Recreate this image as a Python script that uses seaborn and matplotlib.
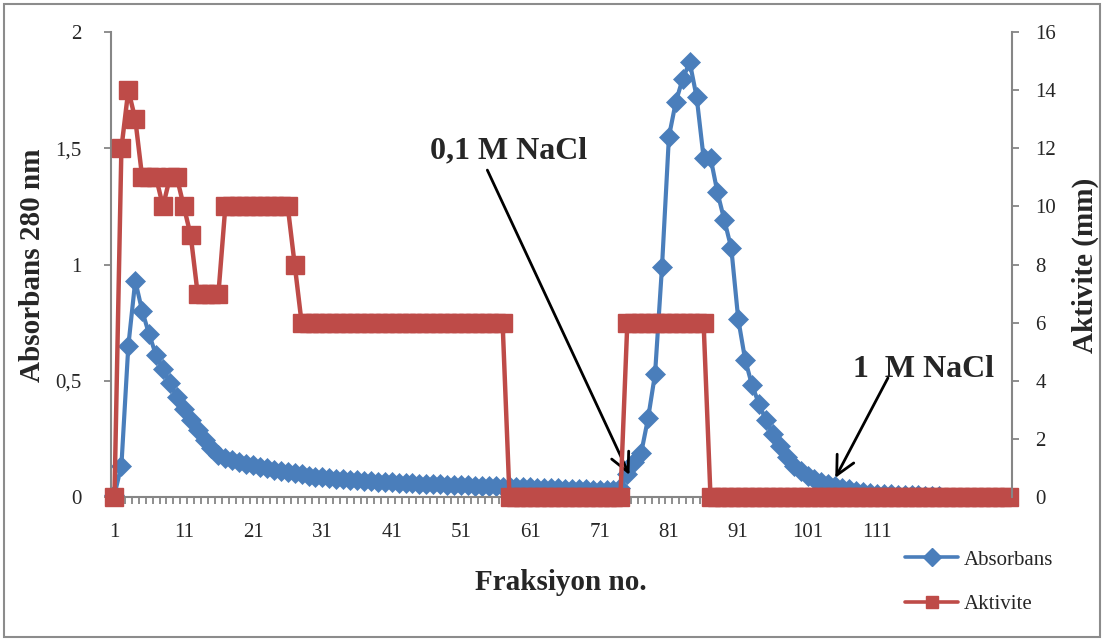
import matplotlib
matplotlib.use("Agg")
import matplotlib.pyplot as plt
from matplotlib.lines import Line2D
from matplotlib.patches import Rectangle
import pandas as pd
import seaborn as sns

# Fraction numbers and measured values
fraksiyon_abs = list(range(1, 121))
absorbans = [
    0.01, 0.135, 0.65, 0.93, 0.80, 0.70, 0.61, 0.55, 0.49, 0.43,
    0.38, 0.33, 0.29, 0.245, 0.21, 0.18, 0.167, 0.158, 0.150, 0.143,
    0.136, 0.130, 0.124, 0.118, 0.112, 0.107, 0.102, 0.097, 0.092, 0.088,
    0.085, 0.082, 0.079, 0.076, 0.073, 0.071, 0.069, 0.067, 0.066, 0.064,
    0.063, 0.061, 0.060, 0.059, 0.057, 0.056, 0.055, 0.054, 0.053, 0.052,
    0.051, 0.050, 0.049, 0.048, 0.047, 0.046, 0.045, 0.044, 0.043, 0.042,
    0.041, 0.040, 0.039, 0.038, 0.037, 0.036, 0.035, 0.034, 0.033, 0.032,
    0.031, 0.030, 0.032, 0.040, 0.10, 0.15, 0.19, 0.34, 0.53, 0.99,
    1.55, 1.70, 1.80, 1.87, 1.72, 1.46, 1.46, 1.31, 1.19, 1.07,
    0.765, 0.59, 0.48, 0.40, 0.33, 0.27, 0.22, 0.17, 0.135, 0.11,
    0.092, 0.077, 0.065, 0.055, 0.047, 0.040, 0.033, 0.027, 0.022, 0.018,
    0.015, 0.013, 0.011, 0.010, 0.009, 0.008, 0.007, 0.006, 0.005, 0.005,
]

fraksiyon_akt = list(range(1, 131))
aktivite = [
    0, 12, 14, 13, 11, 11, 11, 10, 11, 11,
    10, 9, 7, 7, 7, 7, 10, 10, 10, 10,
    10, 10, 10, 10, 10, 10, 8, 6, 6, 6,
    6, 6, 6, 6, 6, 6, 6, 6, 6, 6,
    6, 6, 6, 6, 6, 6, 6, 6, 6, 6,
    6, 6, 6, 6, 6, 6, 6, 0, 0, 0,
    0, 0, 0, 0, 0, 0, 0, 0, 0, 0,
    0, 0, 0, 0, 6, 6, 6, 6, 6, 6,
    6, 6, 6, 6, 6, 6, 0, 0, 0, 0,
    0, 0, 0, 0, 0, 0, 0, 0, 0, 0,
    0, 0, 0, 0, 0, 0, 0, 0, 0, 0,
    0, 0, 0, 0, 0, 0, 0, 0, 0, 0,
    0, 0, 0, 0, 0, 0, 0, 0, 0, 0,
]

x_tick_values = [1, 11, 21, 31, 41, 51, 61, 71, 81, 91, 101, 111]
left_ticks = [0, 0.5, 1, 1.5, 2]
left_tick_labels = ["0", "0,5", "1", "1,5", "2"]
right_ticks = [0, 2, 4, 6, 8, 10, 12, 14, 16]

BLUE = "#4a7ebb"
RED = "#be4b48"
GRAY = "#868686"

sns.set_style("white")
plt.rcParams["font.family"] = ["Liberation Serif", "DejaVu Serif"]

fig = plt.figure(figsize=(11.04, 6.4), dpi=100)
W, H = 1104, 640
ax = fig.add_axes([111 / W, 1 - 497 / H, (1012 - 111) / W, (497 - 32) / H])
ax2 = ax.twinx()

df_abs = pd.DataFrame({"fraksiyon": fraksiyon_abs, "absorbans": absorbans})
df_akt = pd.DataFrame({"fraksiyon": fraksiyon_akt, "aktivite": aktivite})

sns.lineplot(data=df_abs, x="fraksiyon", y="absorbans", ax=ax, estimator=None,
             color=BLUE, linewidth=3.0, marker="D", markersize=10,
             markeredgecolor=BLUE, markerfacecolor=BLUE, markeredgewidth=0.5,
             clip_on=False, legend=False)
sns.lineplot(data=df_akt, x="fraksiyon", y="aktivite", ax=ax2, estimator=None,
             color=RED, linewidth=3.2, marker="s", markersize=13.5,
             markeredgecolor=RED, markerfacecolor=RED, markeredgewidth=1,
             clip_on=False, legend=False)

# Axes limits and category ticks
ax.set_xlim(0.5, 130.5)
ax.set_ylim(0, 2)
ax2.set_ylim(0, 16)

ax.set_xticks(x_tick_values)
ax.set_xticklabels([str(v) for v in x_tick_values])
ax.set_xticks([v + 0.5 for v in range(0, 131)], minor=True)
ax.tick_params(axis="x", which="major", length=0, pad=19, labelsize=15)
ax.tick_params(axis="x", which="minor", direction="out", length=5,
               width=1.3, color=GRAY, bottom=True)

ax.set_yticks(left_ticks)
ax.set_yticklabels(left_tick_labels)
ax.tick_params(axis="y", which="major", direction="out", length=5, width=1.3,
               color=GRAY, pad=16, labelsize=15, left=True)
ax2.set_yticks(right_ticks)
ax2.set_yticklabels([str(v) for v in right_ticks])
ax2.tick_params(axis="y", which="major", direction="out", length=5, width=1.3,
                color=GRAY, pad=12, labelsize=15, right=True)

for a in (ax, ax2):
    a.spines["top"].set_visible(False)
    for side in ("left", "right", "bottom"):
        a.spines[side].set_color(GRAY)
        a.spines[side].set_linewidth(1.5)
ax.spines["right"].set_visible(False)
ax2.spines["left"].set_visible(False)
ax2.spines["bottom"].set_visible(False)

ax.set_xlabel("")
ax.set_ylabel("")
ax2.set_ylabel("")

# Axis titles
fig.text(33 / W, 1 - 265 / H, "Absorbans 280 nm", rotation=90, ha="center",
         va="center", fontsize=21, fontweight="bold")
fig.text(1085 / W, 1 - 265 / H, "Aktivite (mm)", rotation=90, ha="center",
         va="center", fontsize=21, fontweight="bold")
fig.text(561 / W, 1 - 582 / H, "Fraksiyon no.", ha="center", va="center",
         fontsize=21, fontweight="bold")

# Salt-step annotations
arrow_kw = dict(arrowstyle="->,head_length=0.9,head_width=0.45", lw=2,
                color="black", shrinkA=0, shrinkB=0, mutation_scale=15)
ax.text(57.8, 1.49, "0,1 M NaCl", ha="center", va="center", fontsize=23,
        fontweight="bold")
ax.annotate("", xy=(75.3, 0.095), xytext=(54.8, 1.406), xycoords="data",
            arrowprops=arrow_kw)
ax.text(117.8, 0.55, "1  M NaCl", ha="center", va="center", fontsize=23,
        fontweight="bold")
ax.annotate("", xy=(105.0, 0.082), xytext=(112.6, 0.512), xycoords="data",
            arrowprops=arrow_kw)

# Legend
handles = [
    Line2D([], [], color=BLUE, lw=2.6, marker="D", markersize=9,
           markerfacecolor=BLUE, markeredgecolor=BLUE),
    Line2D([], [], color=RED, lw=2.6, marker="s", markersize=8,
           markerfacecolor=RED, markeredgecolor=RED),
]
fig.legend(handles, ["Absorbans", "Aktivite"], loc="upper left",
           bbox_to_anchor=(905 / W, 1 - 550 / H), frameon=False,
           fontsize=15, handlelength=2.55, handletextpad=0.25,
           labelspacing=1.2, borderpad=0, borderaxespad=0)

# Outer chart border
fig.add_artist(Rectangle((4 / W, 3 / H), 1096 / W, 633 / H,
                         transform=fig.transFigure, fill=False,
                         edgecolor="#8c8c8c", lw=1.5))

fig.savefig("out.png", dpi=100)
